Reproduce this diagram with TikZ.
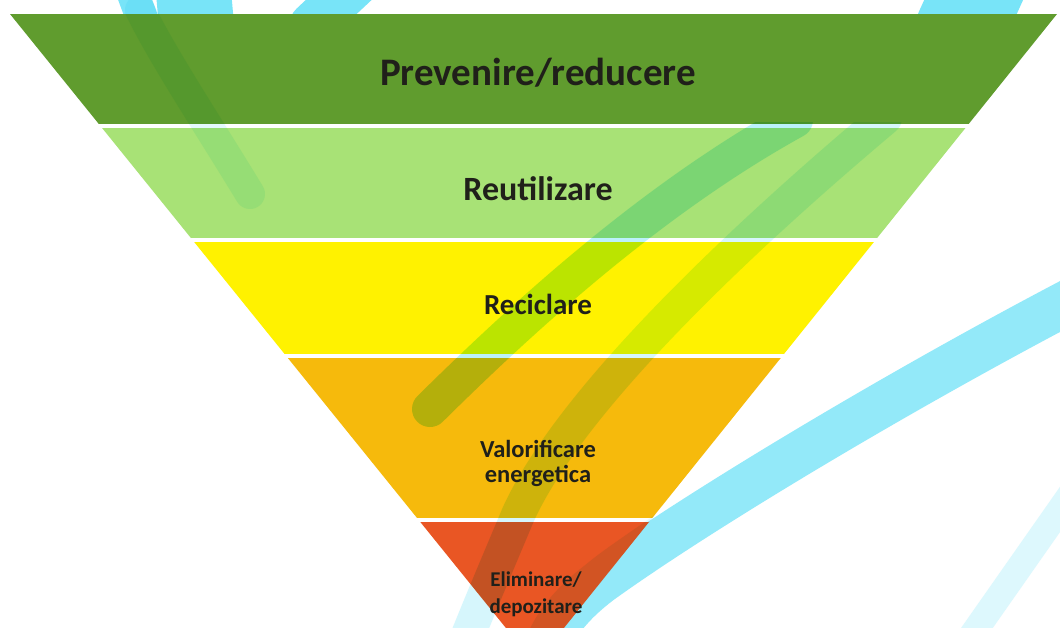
\documentclass[tikz,border=0pt]{standalone}
\usepackage{fontspec}
\setmainfont{Carlito}
\usepackage{tikz}
\usetikzlibrary{calc, positioning}

\definecolor{verde1}{RGB}{96,156,46}
\definecolor{verde2}{RGB}{168,226,118}
\definecolor{galben}{RGB}{255,242,0}
\definecolor{portocaliu}{RGB}{246,186,12}
\definecolor{rosu}{RGB}{233,86,36}
\definecolor{cian}{RGB}{120,228,248}
\definecolor{scris}{RGB}{32,32,26}

\tikzset{
  etaj/.style={text=scris, anchor=base, align=center, inner sep=0pt},
  pensula/.style={draw=cian, line cap=round, opacity=0.65, blend mode=multiply}
}

\begin{document}
\begin{tikzpicture}[x=1pt, y=-1pt]
\useasboundingbox[fill=white] (0,0) rectangle (1060,627);
% brush strokes hidden under the pyramid
\draw[cian, line cap=round, line width=32] (126,-25) -- (150,40);
\draw[cian, line cap=round, line width=75] (192,-25) -- (196,20);
\draw[cian, line cap=round, line width=45] (312,25) -- (360,-20);
\draw[cian, line cap=round, line width=90] (960,30) -- (985,-25);
\draw[pensula, opacity=0.8, line width=45] (1080,296) .. controls (900,390) and (700,510) .. (600,582) .. controls (570,605) and (555,625) .. (545,650);
% the pyramid
\begin{scope}
\clip (10,14) -- (1057,14) -- (535,664) -- cycle;
\foreach \ya/\yb/\cul in {14/124/verde1, 128/238/verde2, 242/354/galben, 358/518/portocaliu, 522/680/rosu}
  \fill[\cul] (0,\ya) rectangle (1060,\yb);
\draw[pensula, opacity=0.18, line width=45] (700,510) .. controls (660,540) and (620,565) .. (600,582) .. controls (570,605) and (555,625) .. (545,650);
\end{scope}
% brush strokes over the pyramid
\draw[pensula, opacity=0.2, line width=30] (140,10) .. controls (165,60) and (205,120) .. (250,194);
\begin{scope}
\clip (0,122) rectangle (1060,700);
\draw[pensula, opacity=0.5, line width=36] (430,409) .. controls (520,320) and (650,200) .. (795,120);
\draw[pensula, opacity=0.3, line width=34] (885,118) .. controls (740,240) and (570,400) .. (518,515) .. controls (497,565) and (482,600) .. (462,650);
\end{scope}
\draw[pensula, opacity=0.25, line width=26] (965,645) -- (1075,488);
% labels
\node[etaj, font=\bfseries\fontsize{39}{41}\selectfont] (prev) at (538,85) {Prevenire/reducere};
\node[etaj, font=\bfseries\fontsize{34}{36}\selectfont] (reut) at (538,200) {Reutilizare};
\node[etaj, font=\bfseries\fontsize{29}{31}\selectfont] (recic) at (538,314) {Reciclare};
\node[etaj, font=\bfseries\fontsize{24.5}{25}\selectfont] (valor) at (538,482) {Valorificare\\energetica};
\node[etaj, font=\bfseries\fontsize{21}{27}\selectfont] (elim) at (536,613) {Eliminare/\\depozitare};
\end{tikzpicture}
\end{document}
